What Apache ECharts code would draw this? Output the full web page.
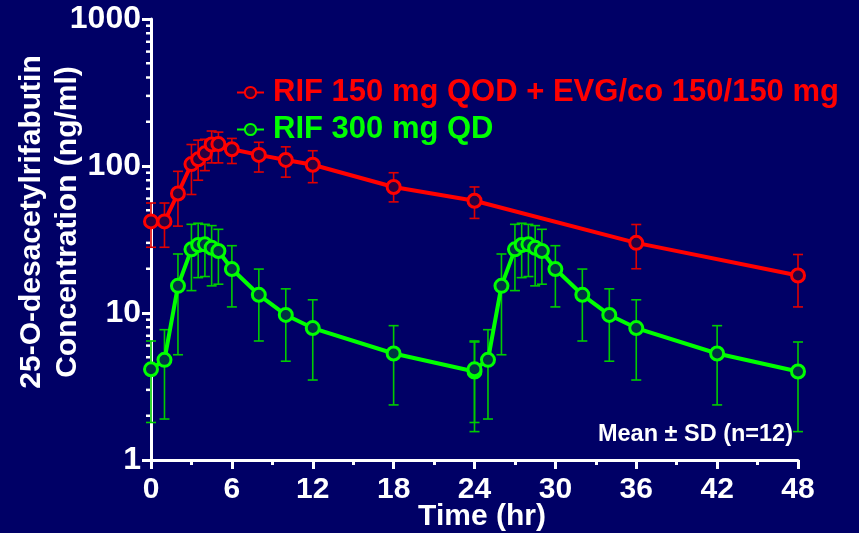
<!DOCTYPE html>
<html><head><meta charset="utf-8">
<script src="https://cdn.jsdelivr.net/npm/echarts@6/dist/echarts.min.js"></script>
<style>html,body{margin:0;padding:0;background:#000066}#c{width:859px;height:533px}</style>
</head><body><div id="c"></div>
<script>
// ---- data ----
const redName = 'RIF 150 mg QOD + EVG/co 150/150 mg';
const greenName = 'RIF 300 mg QD';
const redTime  = [0, 1, 2, 3, 3.5, 4, 4.5, 5, 6, 8, 10, 12, 18, 24, 36, 48];
const redMean  = [42, 42, 65, 103, 111, 122, 140, 141, 130, 119, 110, 102, 72, 58, 30, 18];
const redUpper = [56, 56, 92, 140, 150, 152, 173, 170, 154, 145, 135, 127, 90, 72, 40, 25];
const redLower = [28, 28, 39, 64, 80, 93, 105, 105, 104, 91, 84, 77, 57, 44, 20, 11];

const greenTime  = [0, 1, 2, 3, 3.5, 4, 4.5, 5, 6, 8, 10, 12, 18, 24,
                    24, 25, 26, 27, 27.5, 28, 28.5, 29, 30, 32, 34, 36, 42, 48];
const greenMean  = [4.14, 4.8, 15.3, 27.1, 29.0, 29.3, 27.8, 26.4, 19.9, 13.3, 9.7, 7.9, 5.3, 4.0,
                    4.14, 4.8, 15.3, 27.1, 29.0, 29.3, 27.8, 26.4, 19.9, 13.3, 9.7, 7.9, 5.3, 4.0];
const greenUpper = [6.45, 7.7, 25.2, 40.1, 40.8, 40.1, 39.3, 37.1, 28.7, 19.9, 14.6, 12.3, 8.2, 6.35,
                    6.45, 7.7, 25.2, 40.1, 40.8, 40.1, 39.3, 37.1, 28.7, 19.9, 14.6, 12.3, 8.2, 6.35];
const greenLower = [1.8, 1.9, 5.2, 14.2, 17.4, 17.7, 15.3, 15.7, 11.0, 6.45, 4.7, 3.5, 2.37, 1.56,
                    1.8, 1.9, 5.2, 14.2, 17.4, 17.7, 15.3, 15.7, 11.0, 6.45, 4.7, 3.5, 2.37, 1.56];

const xTicks = [0, 6, 12, 18, 24, 30, 36, 42, 48];
const yTickLabels = {1: '1', 10: '10', 100: '100', 1000: '1000'};
const yMinorTicks = [2,3,4,5,6,7,8,9,20,30,40,50,60,70,80,90,200,300,400,500,600,700,800,900];

// ---- chart ----
const FONT = '"Liberation Sans", Arial, sans-serif';
const BG = '#000066';
const RED = '#ff0000', GREEN = '#00ff00';
const chart = echarts.init(document.getElementById('c'), null, {renderer: 'canvas'});

function errSeries(name, t, lo, hi, color) {
  return {
    type: 'custom', name: name + ' SD', silent: true, z: 2,
    data: t.map((x, i) => [x, lo[i], hi[i]]),
    renderItem: function (params, api) {
      const x = api.value(0);
      const a = api.coord([x, api.value(1)]);
      const b = api.coord([x, api.value(2)]);
      const w = 5;
      const st = {stroke: color, lineWidth: 1.6};
      return {type: 'group', children: [
        {type: 'line', shape: {x1: a[0], y1: a[1], x2: b[0], y2: b[1]}, style: st},
        {type: 'line', shape: {x1: a[0] - w, y1: a[1], x2: a[0] + w, y2: a[1]}, style: st},
        {type: 'line', shape: {x1: b[0] - w, y1: b[1], x2: b[0] + w, y2: b[1]}, style: st}
      ]};
    }
  };
}

const option = {
  animation: false,
  backgroundColor: BG,
  grid: {left: 151, right: 61, top: 19, bottom: 73, containLabel: false},
  legend: {
    orient: 'vertical', left: 231, top: 71, itemWidth: 27, itemHeight: 14, itemGap: 4,
    textStyle: {fontSize: 31, fontWeight: 'bold', fontFamily: FONT, lineHeight: 33, padding: [0, 0, 0, 4]},
    data: [
      {name: redName, textStyle: {color: RED}},
      {name: greenName, textStyle: {color: GREEN}}
    ]
  },
  xAxis: {
    type: 'value', min: 0, max: 48, interval: 6,
    axisLine: {show: true, onZero: false, lineStyle: {color: '#fff', width: 3}},
    axisTick: {show: true, length: 9, lineStyle: {color: '#fff', width: 3}},
    minorTick: {show: true, splitNumber: 2, length: 5, lineStyle: {color: '#fff', width: 3}},
    splitLine: {show: false},
    axisLabel: {color: '#fff', fontSize: 30, fontWeight: 'bold', fontFamily: FONT, margin: 15,
      formatter: v => xTicks.indexOf(v) >= 0 ? String(v) : ''}
  },
  yAxis: {
    type: 'log', logBase: 10, min: 1, max: 1000,
    axisLine: {show: true, onZero: false, lineStyle: {color: '#fff', width: 3}},
    axisTick: {show: true, length: 9, lineStyle: {color: '#fff', width: 3}},
    splitLine: {show: false},
    axisLabel: {color: '#fff', fontSize: 32, fontWeight: 'bold', fontFamily: FONT, margin: 10,
      formatter: v => yTickLabels[Math.round(v)] || ''}
  },
  graphic: [
    {type: 'text', x: 50, y: 222, rotation: Math.PI / 2,
      style: {text: '25-O-desacetylrifabutin\nConcentration (ng/ml)', fill: '#fff',
        font: 'bold 30px ' + FONT, align: 'center', verticalAlign: 'middle', lineHeight: 36}},
    {type: 'text', x: 482, y: 517,
      style: {text: 'Time (hr)', fill: '#fff', font: 'bold 30px ' + FONT, align: 'center', verticalAlign: 'middle'}},
    {type: 'text', x: 793, y: 435,
      style: {text: 'Mean \u00b1 SD (n=12)', fill: '#fff', font: 'bold 23.5px ' + FONT, align: 'right', verticalAlign: 'middle'}}
  ],
  series: [
    {
      type: 'custom', name: 'minor', silent: true, z: 1,
      data: yMinorTicks.map(v => [0, v]),
      renderItem: function (params, api) {
        const p = api.coord([0, api.value(1)]);
        return {type: 'line', shape: {x1: p[0] - 5, y1: p[1], x2: p[0], y2: p[1]},
          style: {stroke: '#fff', lineWidth: 2.5}};
      }
    },
    errSeries(redName, redTime, redLower, redUpper, '#e00000'),
    errSeries(greenName, greenTime, greenLower, greenUpper, '#00cc00'),
    {
      type: 'line', name: redName, z: 5,
      data: redTime.map((t, i) => [t, redMean[i]]),
      lineStyle: {color: RED, width: 4},
      symbol: 'circle', symbolSize: 13,
      itemStyle: {color: '#2a0040', borderColor: RED, borderWidth: 3},
      color: RED
    },
    {
      type: 'line', name: greenName, z: 5,
      data: greenTime.map((t, i) => [t, greenMean[i]]),
      lineStyle: {color: GREEN, width: 4},
      symbol: 'circle', symbolSize: 13,
      itemStyle: {color: '#003344', borderColor: GREEN, borderWidth: 3},
      color: GREEN
    }
  ]
};
chart.setOption(option);
</script></body></html>
